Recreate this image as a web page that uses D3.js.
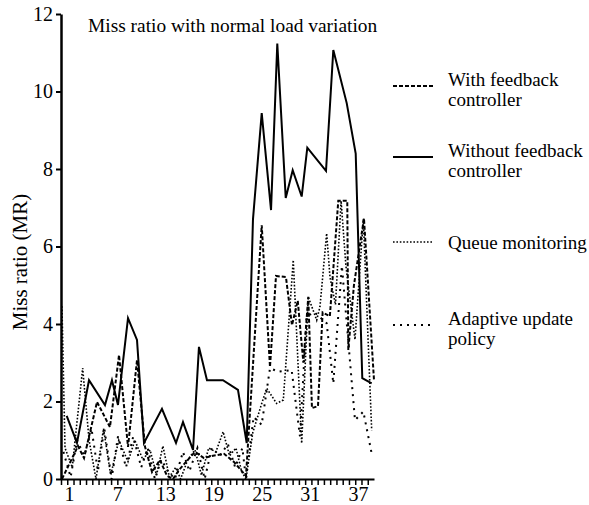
<!DOCTYPE html>
<html>
<head>
<meta charset="utf-8">
<script src="https://cdn.jsdelivr.net/npm/d3@7"></script>
<style>
body { margin: 0; background: #fff; }
svg text { font-family: "Liberation Serif", "Times New Roman", serif; fill: #000; }
.axis path, .axis line { stroke: #000; }
</style>
</head>
<body>
<div id="plot"></div>
<script>
// values: [sample, miss ratio]
var withFeedback = [[0.12,0],[2.12,0.85],[2.87,0.54],[4.49,1.99],[6.1,1.34],[7.23,3.2],[8.35,0.83],[9.47,3.07],[10.47,0.83],[11.34,0.18],[12.33,0.49],[13.21,0.08],[13.95,0],[14.7,0.23],[15.57,0.44],[16.7,0.7],[17.82,0.54],[18.94,0.6],[20.31,0.65],[21.55,0.44],[23.05,0.08],[23.8,2.55],[25.01,6.55],[26.04,2.89],[26.79,5.24],[28.03,5.21],[28.78,3.97],[29.5,4.6],[30.2,3.0],[30.81,4.7],[31.27,1.83],[32.02,1.88],[32.6,4.3],[33.5,4.2],[34.55,7.18],[35.67,7.18],[35.8,3.33],[36.5,5.0],[37.75,6.73],[39,2.55]];
var withoutFeedback = [[0.71,1.63],[1.99,0.93],[3.49,2.55],[5.48,1.91],[6.35,2.55],[7.1,1.91],[8.35,4.15],[9.47,3.59],[10.34,0.93],[12.58,1.81],[14.33,0.93],[15.2,1.47],[16.45,0.75],[17.19,3.41],[18.19,2.55],[20.18,2.55],[22.05,2.3],[23.14,0.93],[23.92,6.7],[25.01,9.44],[26.17,6.94],[26.95,11.24],[28.0,7.25],[28.87,7.97],[29.99,7.29],[30.69,8.55],[33.02,7.95],[33.93,11.07],[35.6,9.7],[36.72,8.4],[37.54,2.6],[38.71,2.47]];
var queueMonitoring = [[0.12,4.46],[0.5,0.8],[1.4,0.3],[2.7,2.86],[3.5,1.0],[4.36,0],[5.3,1.3],[6.2,0.1],[7.2,1.0],[8.35,0.45],[9.2,1.0],[10.2,0.5],[11.1,0.75],[11.9,0.1],[12.7,0.85],[13.5,0.05],[14.3,0.3],[14.9,0],[15.8,0.5],[16.7,0.75],[17.5,0.1],[18.4,0.8],[19.3,0.7],[20.2,1.22],[21.0,0.6],[21.8,0.8],[22.5,0.2],[23.05,0],[23.9,1.2],[25.01,1.95],[25.63,2.34],[26.87,1.95],[27.7,2.04],[28.94,5.65],[29.99,0.92],[30.81,4.7],[31.86,4.1],[32.27,4.45],[33.1,6.34],[33.52,5.2],[34.2,4.5],[34.9,7.18],[35.5,5.5],[36.63,3.6],[37.67,6.7],[38.71,1.26]];
var adaptiveUpdate = [[0.3,0.7],[1.2,0.05],[2.0,1.0],[2.9,0.6],[3.8,1.3],[4.6,0.2],[5.4,1.3],[6.3,0],[7.1,1.1],[8.1,0.3],[9.0,1.1],[10.0,0.3],[10.8,0.8],[11.7,0],[12.5,0.5],[13.3,0.2],[14.2,0],[15.2,0.7],[16.0,0.2],[17.0,0.8],[17.9,0],[18.8,0.8],[19.8,0.6],[20.8,0.9],[21.7,0.3],[22.6,0.8],[23.05,0],[24.0,1.6],[25.0,1.4],[26.04,2.86],[27.07,2.77],[28.74,2.81],[29.78,1.09],[30.6,4.2],[31.6,4.3],[33.1,4.02],[33.93,2.47],[35.0,5.5],[36.63,1.52],[37.67,1.74],[38.71,0.66]];

var xTickLabels = [1, 7, 13, 19, 25, 31, 37];
var yTickLabels = [0, 2, 4, 6, 8, 10, 12];
var seriesNames = [["With feedback", "controller"], ["Without feedback", "controller"], ["Queue monitoring"], ["Adaptive update", "policy"]];
var title = "Miss ratio with normal load variation";
var yTitle = "Miss ratio (MR)";

var serif = '"Liberation Serif", "Times New Roman", serif';

var margin = {top: 14, right: 215, bottom: 26, left: 61};
var width = 589 - margin.left - margin.right;
var height = 505 - margin.top - margin.bottom;

// line looks, same order as seriesNames
var looks = [
  {data: withFeedback, width: 2, dash: "4,2"},
  {data: withoutFeedback, width: 2, dash: null},
  {data: queueMonitoring, width: 1.6, dash: "1.6,1.8"},
  {data: adaptiveUpdate, width: 2, dash: "2,5"}
];

var svg = d3.select('#plot')
  .append('svg')
  .attr('width', 589)
  .attr('height', 505);

var g = svg.append('g')
  .attr('transform', 'translate(' + margin.left + ',' + margin.top + ')');

var x = d3.scaleLinear().domain([0, 39]).range([0, width]);
var y = d3.scaleLinear().domain([0, 12]).range([height, 0]);

var line = d3.line()
  .x(function(d){ return x(d[0]); })
  .y(function(d){ return y(d[1]); });

looks.forEach(function(s){
  g.append('path')
    .datum(s.data)
    .attr('fill', 'none')
    .attr('stroke', '#000')
    .attr('stroke-width', s.width)
    .attr('stroke-linejoin', 'miter')
    .attr('stroke-dasharray', s.dash)
    .attr('d', line);
});

// small ticks along x
var minor = d3.range(0, 50).map(function(i){ return i * 39 / 50; });
g.append('g')
  .attr('class', 'axis')
  .attr('transform', 'translate(0,' + height + ')')
  .call(d3.axisBottom(x).tickValues(minor).tickSize(6).tickSizeOuter(0).tickFormat(''))
  .call(function(a){ a.selectAll('line').attr('stroke-width', 1.5); a.select('.domain').attr('stroke-width', 2); });

g.append('g')
  .attr('class', 'axis')
  .attr('transform', 'translate(0,' + height + ')')
  .call(d3.axisBottom(x).tickValues(xTickLabels).tickSize(0).tickPadding(8).tickSizeOuter(0))
  .attr('font-family', serif)
  .attr('font-size', 20)
  .call(function(a){ a.select('.domain').remove(); });

g.append('g')
  .attr('class', 'axis')
  .call(d3.axisLeft(y).tickValues(yTickLabels).tickSize(5).tickPadding(3).tickSizeOuter(0))
  .attr('font-family', serif)
  .attr('font-size', 20)
  .call(function(a){
    a.select('.domain').attr('stroke-width', 2.5);
    a.selectAll('line').attr('stroke-width', 2);
  });

svg.append('text')
  .attr('x', 88)
  .attr('y', 32)
  .attr('font-family', serif)
  .style('font-size', '19.4px')
  .text(title);

svg.append('text')
  .attr('transform', 'translate(27,262) rotate(-90)')
  .attr('text-anchor', 'middle')
  .attr('font-family', serif)
  .style('font-size', '21px')
  .text(yTitle);

// legend
var legendY = [86, 157, 242, 325];
var legend = svg.selectAll('.legend')
  .data(seriesNames)
  .enter()
  .append('g')
  .attr('class', 'legend')
  .attr('transform', function(d, i){ return 'translate(393,' + legendY[i] + ')'; });

legend.append('line')
  .attr('x1', 0)
  .attr('x2', 40)
  .attr('stroke', '#000')
  .attr('stroke-width', function(d, i){ return looks[i].width; })
  .attr('stroke-dasharray', function(d, i){ return looks[i].dash; });

legend.append('text')
  .attr('x', 55)
  .attr('font-family', serif)
  .style('font-size', '19px')
  .selectAll('tspan')
  .data(function(d){ return d.map(function(t){ return {t: t, n: d.length}; }); })
  .enter()
  .append('tspan')
  .attr('x', 55)
  .attr('y', function(d, j){ return d.n == 1 ? 7 : j * 20; })
  .text(function(d){ return d.t; });
</script>
</body>
</html>
